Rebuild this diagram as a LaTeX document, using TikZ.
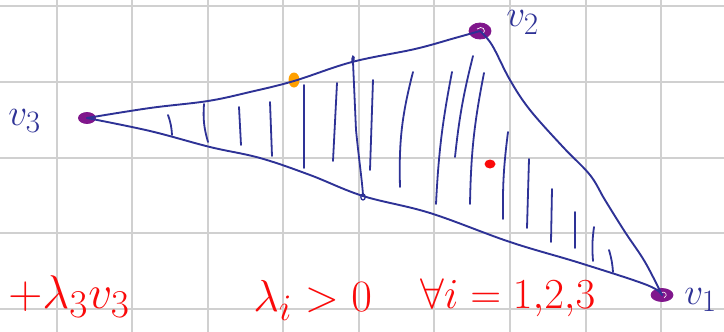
\documentclass[tikz,border=0pt]{standalone}
\usetikzlibrary{shapes.geometric}
\definecolor{gridgray}{RGB}{208,208,208}
\definecolor{penblue}{RGB}{46,50,150}
\definecolor{penpurple}{RGB}{128,22,140}
\definecolor{penorange}{RGB}{255,160,0}
\definecolor{penred}{RGB}{250,10,10}
\begin{document}
\begin{tikzpicture}[x=1pt,y=-1pt,
  gridline/.style={draw=gridgray, line width=1.3pt},
  edge/.style={draw=penblue, line width=1.9pt, line cap=round, line join=round},
  hatch/.style={draw=penblue, line width=1.8pt, line cap=round},
  vdot/.style={fill=penpurple, draw=penpurple, line width=0.8pt},
  lbl/.style={text=penblue, inner sep=0pt, anchor=base west, font=\Huge, scale=1.5},
  redtxt/.style={text=penred, inner sep=0pt, anchor=base west, font=\Huge}]
\useasboundingbox (0,0) rectangle (724,332);
\fill[white] (0,0) rectangle (724,332);
% grid
\foreach \x in {57,132,208,283,359,434,510,586,661}
  \draw[gridline] (\x,0) -- (\x,332);
\foreach \y in {6,82,158,233,309}
  \draw[gridline] (0,\y) -- (724,\y);
% vertices
\coordinate (v3) at (87,118);
\coordinate (v2) at (480,31);
\coordinate (v1) at (662,295);
% dots (under the pen lines)
\fill[vdot] (v3) ellipse [x radius=8.5, y radius=5.5];
\fill[vdot] (v2) ellipse [x radius=11, y radius=8];
\draw[white, line width=0.7pt] (477,29) .. controls (482,25) and (487,30) .. (483,34);
\fill[vdot] (v1) ellipse [x radius=11, y radius=6.5];
\draw[white, line width=0.6pt] (660,293) .. controls (665,290) and (669,295) .. (664,298);
\node[fill=penorange, ellipse, minimum width=11pt, minimum height=15pt, inner sep=0pt] (orange) at (294,80) {};
\node[fill=penred, ellipse, minimum width=11pt, minimum height=9pt, inner sep=0pt] (reddot) at (490,164) {};
% edges
\draw[edge] plot[smooth, tension=0.6] coordinates {(v3) (150,108) (208,101) (250,92) (294,81) (352,62) (415,49) (455,38) (v2)};
\draw[edge] plot[smooth, tension=0.6] coordinates {(v3) (150,131) (210,147) (260,158) (310,175) (363,196) (430,213) (510,242) (580,263) (647,285) (v1)};
\draw[edge] plot[smooth, tension=0.6] coordinates {(v2) (492,45) (510,80) (530,110) (563,147) (590,175) (605,200) (625,232) (645,262) (v1)};
% hatching
\draw[hatch] (168,115) to[bend left=8] (172,135);
\draw[hatch] (204,104) to[bend right=10] (208,142);
\draw[hatch] (239,107) -- (241,145);
\draw[hatch] (270,102) -- (272,156);
\draw[hatch] (304,85) -- (304,168);
\draw[hatch] (337,83) -- (333,161);
\draw[hatch] (353,64) .. controls (350,56) and (356,53) .. (353,62) -- (356,130) .. controls (359,160) and (362,180) .. (363,195);
\draw[penblue, line width=1.3pt] (363,197) ellipse [x radius=2.2, y radius=3];
\draw[hatch] (373,80) -- (370,170);
\draw[hatch] (413,72) to[bend right=8] (400,187);
\draw[hatch] (452,72) to[bend right=4] (436,204);
\draw[hatch] (473,56) to[bend right=4] (455,157);
\draw[hatch] (484,73) to[bend right=5] (470,204);
\draw[hatch] (508,132) to[bend right=4] (503,219);
\draw[hatch] (529,159) -- (527,228);
\draw[hatch] (552,189) -- (551,242);
\draw[hatch] (575,212) -- (575,248);
\draw[hatch] (594,227) to[bend right=6] (593,261);
\draw[hatch] (609,250) to[bend left=6] (613,272);
% vertex labels
\node[lbl] (l3) at (8,125) {$v_3$};
\node[lbl] (l2) at (506,27) {$v_2$};
\node[lbl] (l1) at (684,304) {$v_1$};
% red handwriting
\node[redtxt, scale=1.9] (t1) at (8,308) {$+\lambda_3 v_3$};
\node[redtxt, scale=1.8] (t2) at (253,311) {$\lambda_i > 0$};
\node[redtxt, scale=1.72] (t3) at (420,308) {$\forall i = 1{,}2{,}3$};
\end{tikzpicture}
\end{document}
